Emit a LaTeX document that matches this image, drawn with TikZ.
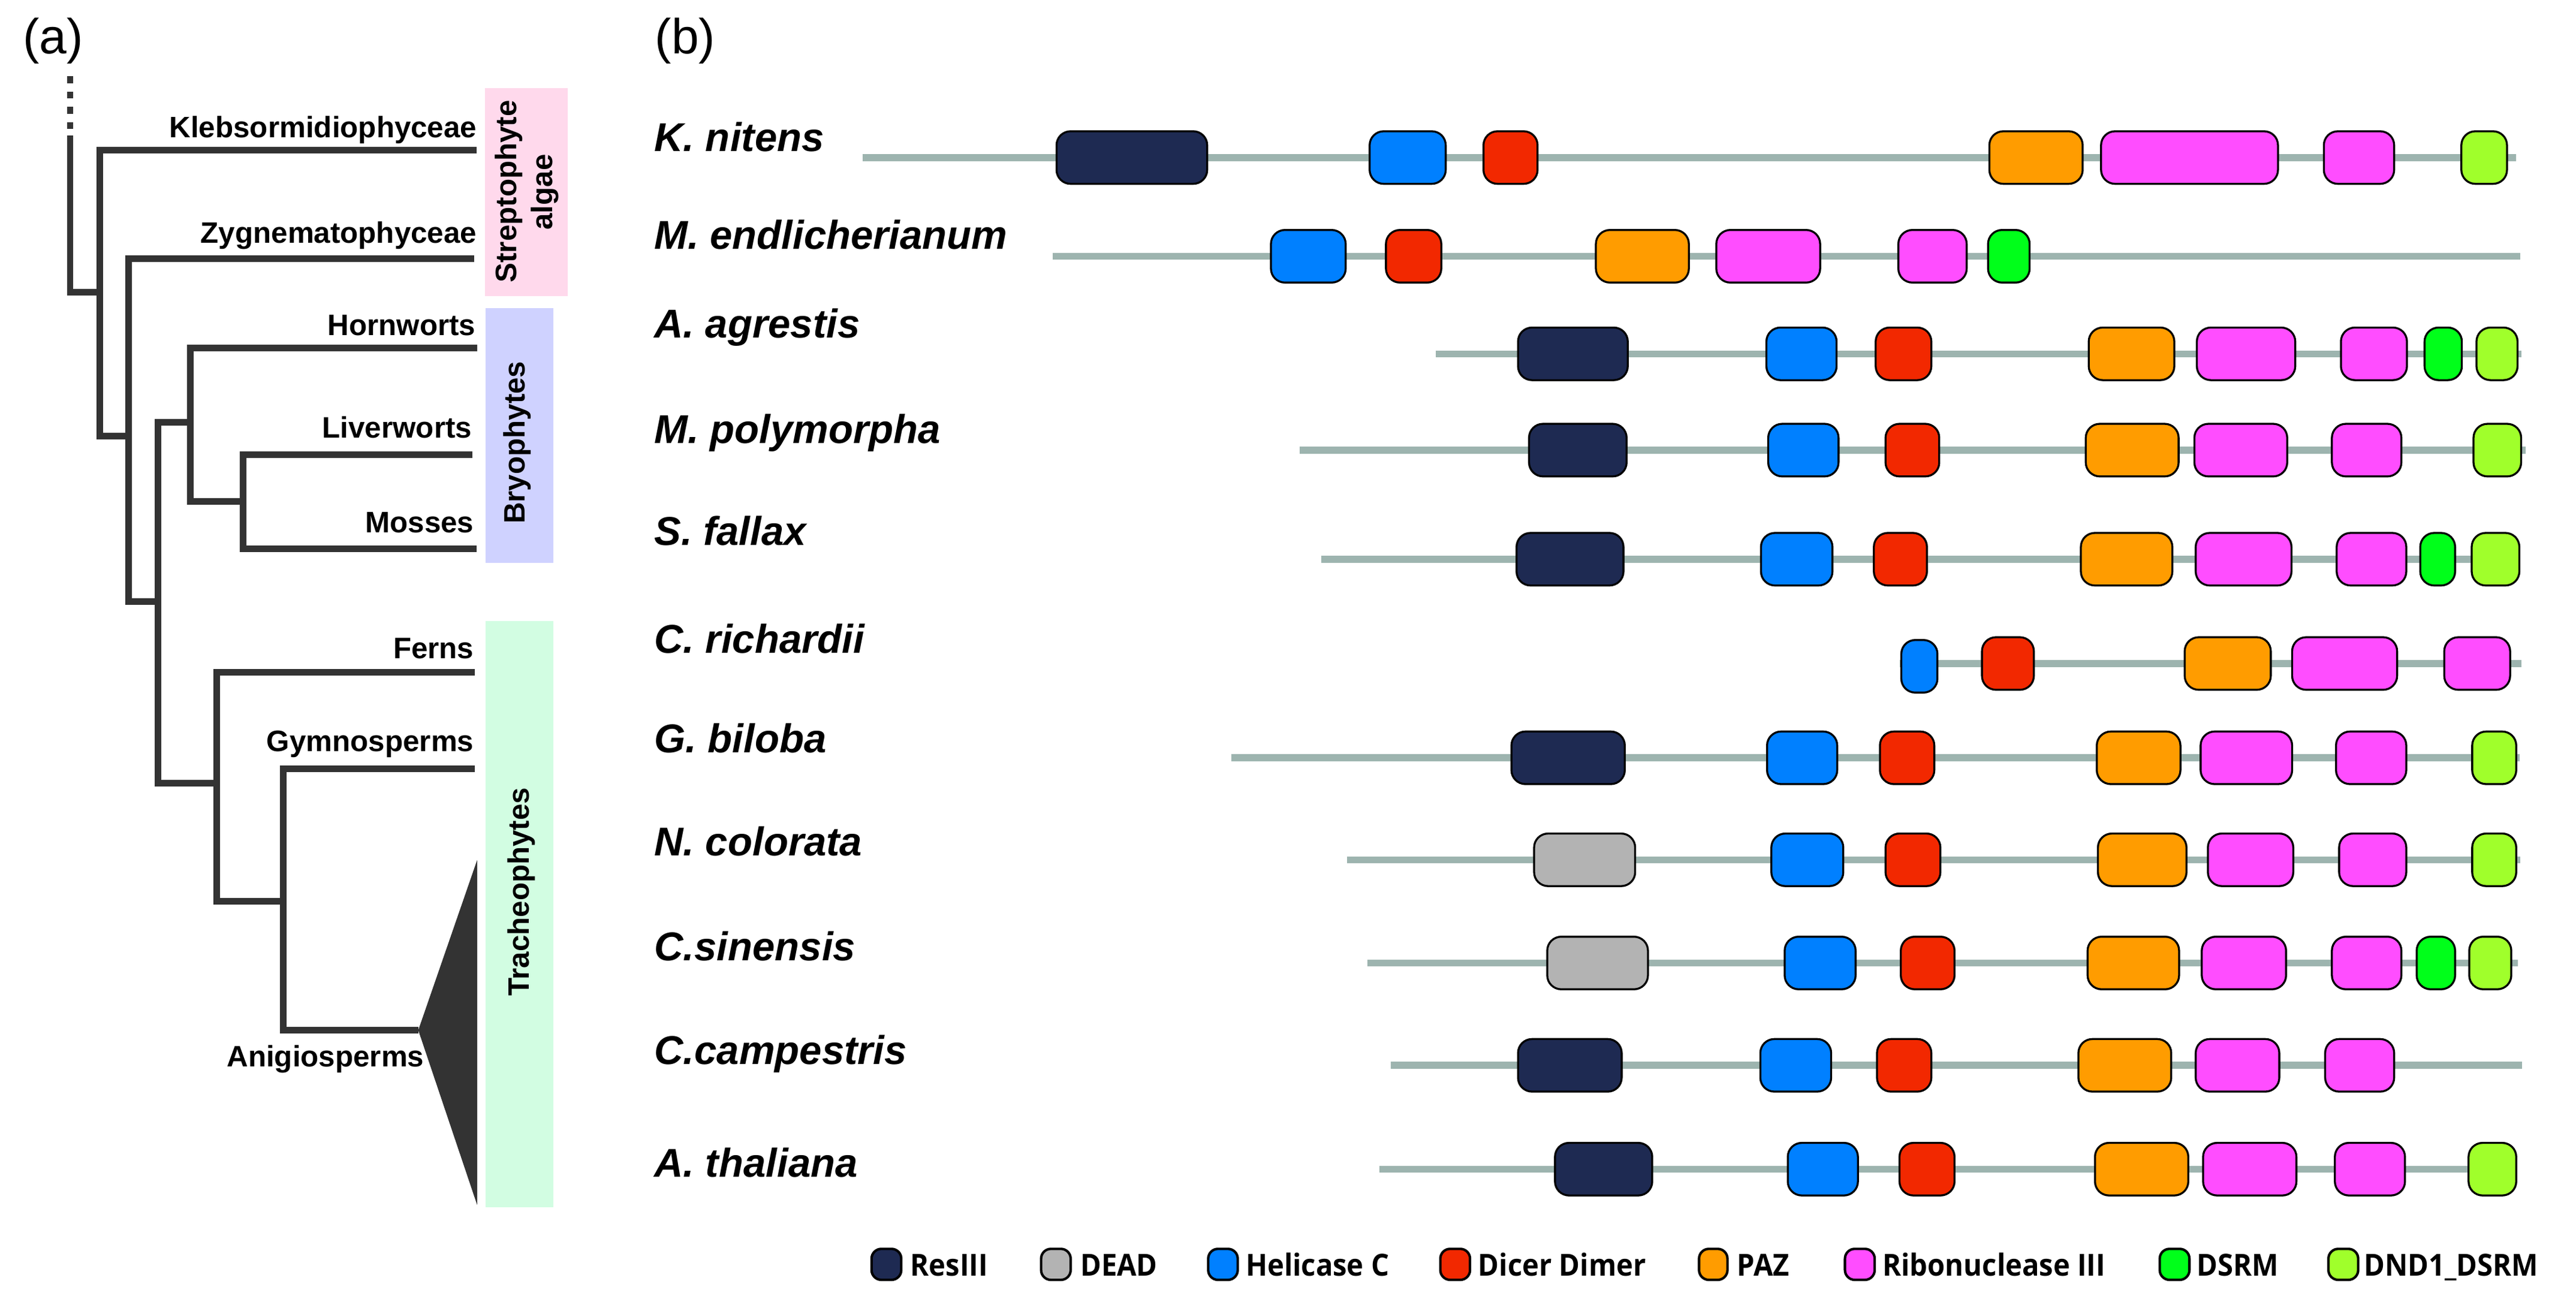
\documentclass[tikz,border=0pt]{standalone}
\usepackage{fontspec}
\setmainfont{Liberation Sans}
\newfontfamily\legfont[FakeStretch=0.93]{Open Sans}
\definecolor{cTree}{HTML}{333333}
\definecolor{cLine}{HTML}{9DB4AF}
\definecolor{cRes}{HTML}{1E2A52}
\definecolor{cDead}{HTML}{B3B3B3}
\definecolor{cHel}{HTML}{0080FF}
\definecolor{cDic}{HTML}{F22800}
\definecolor{cPaz}{HTML}{FF9C00}
\definecolor{cRna}{HTML}{FF4DFF}
\definecolor{cDsrm}{HTML}{00FF1A}
\definecolor{cDnd}{HTML}{A0FF2B}
\definecolor{cPink}{HTML}{FFD9EC}
\definecolor{cLav}{HTML}{CFD2FF}
\definecolor{cMint}{HTML}{D2FDE2}
\newcommand\domainbox[4]{\draw[#1] (#2,#4-16) rectangle (#3,#4+16);}
\newcommand\backboneline[3]{\draw[backbone] (#1,#3) -- (#2,#3);}
\begin{document}
\begin{tikzpicture}[x=1pt,y=-1pt,
  tree/.style={draw=cTree, line width=4pt, line join=miter},
  backbone/.style={draw=cLine, line width=4.2pt},
  dom/.style={draw=black, line width=1.2pt, rounded corners=8.5pt},
  resIII/.style={dom, fill=cRes},
  dead/.style={dom, fill=cDead},
  helic/.style={dom, fill=cHel},
  dicer/.style={dom, fill=cDic},
  paz/.style={dom, fill=cPaz},
  rnase/.style={dom, fill=cRna},
  dsrm/.style={dom, fill=cDsrm},
  dnd/.style={dom, fill=cDnd},
  clade/.style={font=\fontsize{18}{21.6}\selectfont\bfseries, inner sep=0pt, anchor=base east},
  group/.style={font=\fontsize{18}{21.6}\selectfont\bfseries, inner sep=0pt, anchor=base, rotate=90},
  species/.style={font=\fontsize{24.5}{29}\selectfont\bfseries\itshape, inner sep=0pt, anchor=base west},
  legtext/.style={font=\legfont\fontsize{18.5}{22}\selectfont\bfseries, inner sep=0pt, anchor=base west},
  swatch/.style={draw=black, line width=1.5pt, rounded corners=6pt},
  panel/.style={font=\fontsize{30}{36}\selectfont, inner sep=0pt, anchor=base west}]
\useasboundingbox (0,0) rectangle (1568,797.7);
\fill[white] (0,0) rectangle (1568,797.7);

% ---------- panel labels
\node[panel] (pa) at (13.8,32.6) {(a)};
\node[panel] (pb) at (398.5,32.6) {(b)};

% ---------- group boxes
\fill[cPink] (295.1,53.5) rectangle (345.6,180.4);
\fill[cLav] (295.6,187.6) rectangle (336.7,342.6);
\fill[cMint] (295.6,377.9) rectangle (336.7,734.8);
\node[group] (gStrep) at (314.2,116.5) {Streptophyte};
\node[group] (gAlgae) at (336.3,117) {algae};
\node[group] (gBryo) at (319.3,269.4) {Bryophytes};
\node[group] (gTrach) at (321.9,542.9) {Tracheophytes};

% ---------- tree coordinates
\coordinate (rootTop) at (42.7,46.5);
\coordinate (rootSolid) at (42.7,82.6);
\coordinate (a1) at (60.9,178);
\coordinate (a2) at (60.9,265.5);
\coordinate (b1) at (78.1,265.5);
\coordinate (b2) at (78.1,366.3);
\coordinate (c1) at (96.2,366.3);
\coordinate (c2) at (96.2,476.7);
\coordinate (d1) at (116,257.2);
\coordinate (d2) at (116,305.1);
\coordinate (e1) at (148.1,305.1);
\coordinate (e2) at (148.1,334);
\coordinate (f1) at (132,476.7);
\coordinate (f2) at (132,548.5);
\coordinate (g1) at (172.4,548.5);
\coordinate (g2) at (172.4,627.1);
\coordinate (tKleb) at (290.2,91.5);
\coordinate (tZyg) at (288.6,157.6);
\coordinate (tHorn) at (290.4,211.8);
\coordinate (tLiv) at (287.6,276.9);
\coordinate (tMoss) at (290,334);
\coordinate (tFern) at (289,409.1);
\coordinate (tGym) at (289,467.9);
\coordinate (tAng) at (254.6,627.1);
\coordinate (triTop) at (290.4,523.6);
\coordinate (triBot) at (290.4,733.4);

\draw[tree, dash pattern=on 4.2pt off 5.1pt] (rootTop) -- (rootSolid);
\draw[tree] (rootSolid) |- (a1);
\draw[tree] (tKleb) -| (a2) -- (b1);
\draw[tree] (tZyg) -| (b2) -- (c1);
\draw[tree] (d1) -| (c2) -- (f1);
\draw[tree] (tHorn) -| (d2) -- (e1);
\draw[tree] (tLiv) -| (e2) -- (tMoss);
\draw[tree] (tFern) -| (f2) -- (g1);
\draw[tree] (tGym) -| (g2) -- (tAng);
\fill[cTree] (tAng) -- (triTop) -- (triBot) -- cycle;

\node[clade] (lKleb) at (290.4,83.8) {Klebsormidiophyceae};
\node[clade] (lZyg) at (290.4,147.8) {Zygnematophyceae};
\node[clade] (lHorn) at (289.7,204.3) {Hornworts};
\node[clade] (lLiv) at (287.4,266.5) {Liverworts};
\node[clade] (lMoss) at (288.6,324.2) {Mosses};
\node[clade] (lFern) at (288.6,400.8) {Ferns};
\node[clade] (lGym) at (288.6,457.4) {Gymnosperms};
\node[clade] (lAng) at (258.3,649.2) {Anigiosperms};

% ---------- species labels
\node[species] (s1) at (398,92) {K. nitens};
\node[species] (s2) at (398,151.7) {M. endlicherianum};
\node[species] (s3) at (398,205.7) {A. agrestis};
\node[species] (s4) at (398,270) {M. polymorpha};
\node[species] (s5) at (398,331.8) {S. fallax};
\node[species] (s6) at (398,397.5) {C. richardii};
\node[species] (s7) at (398,458) {G. biloba};
\node[species] (s8) at (398,520.8) {N. colorata};
\node[species] (s9) at (398,584.8) {C.sinensis};
\node[species] (s10) at (398,647.7) {C.campestris};
\node[species] (s11) at (398,716.3) {A. thaliana};

% ---------- protein backbones
\backboneline{525.1}{1531.6}{95.9}
\backboneline{640.7}{1534.2}{156}
\backboneline{874.1}{1534.6}{215.4}
\backboneline{791}{1537.2}{274}
\backboneline{804.1}{1533}{340.4}
\backboneline{1156.2}{1534.6}{403.9}
\backboneline{749.4}{1533.5}{461.3}
\backboneline{819.9}{1534.2}{523.4}
\backboneline{832.5}{1532.7}{586.2}
\backboneline{846.4}{1535.3}{648.5}
\backboneline{839.7}{1531}{711.7}

% row 1 K. nitens
\domainbox{resIII}{643.1}{734.8}{95.9}
\domainbox{helic}{833.7}{880}{95.9}
\domainbox{dicer}{903}{935.9}{95.9}
\domainbox{paz}{1210.9}{1267.7}{95.9}
\domainbox{rnase}{1278.9}{1386.6}{95.9}
\domainbox{rnase}{1414.5}{1457.3}{95.9}
\domainbox{dnd}{1498.2}{1526}{95.9}
% row 2 M. endlicherianum
\domainbox{helic}{773.6}{819.1}{156}
\domainbox{dicer}{843.6}{877.3}{156}
\domainbox{paz}{971.4}{1028}{156}
\domainbox{rnase}{1044.7}{1107.9}{156}
\domainbox{rnase}{1155.5}{1197.1}{156}
\domainbox{dsrm}{1210.1}{1235.4}{156}
% row 3 A. agrestis
\domainbox{resIII}{924}{990.8}{215.4}
\domainbox{helic}{1075.2}{1117.9}{215.4}
\domainbox{dicer}{1141.7}{1175.6}{215.4}
\domainbox{paz}{1271.4}{1323.5}{215.4}
\domainbox{rnase}{1337.2}{1397.1}{215.4}
\domainbox{rnase}{1424.9}{1465.1}{215.4}
\domainbox{dsrm}{1475.8}{1498.5}{215.4}
\domainbox{dnd}{1507.4}{1532.4}{215.4}
% row 4 M. polymorpha
\domainbox{resIII}{930.7}{990.1}{274}
\domainbox{helic}{1076.3}{1119.1}{274}
\domainbox{dicer}{1147.7}{1180.4}{274}
\domainbox{paz}{1269.6}{1326.1}{274}
\domainbox{rnase}{1335.7}{1392.2}{274}
\domainbox{rnase}{1419.4}{1461.7}{274}
\domainbox{dnd}{1505.6}{1534.6}{274}
% row 5 S. fallax
\domainbox{resIII}{923.1}{988.2}{340.4}
\domainbox{helic}{1071.9}{1115.4}{340.4}
\domainbox{dicer}{1140.6}{1172.9}{340.4}
\domainbox{paz}{1266.6}{1322.3}{340.4}
\domainbox{rnase}{1336.5}{1394.8}{340.4}
\domainbox{rnase}{1422.3}{1464.7}{340.4}
\domainbox{dsrm}{1473.2}{1494.4}{340.4}
\domainbox{dnd}{1504.5}{1533.5}{340.4}
% row 6 C. richardii
\domainbox{helic}{1157.3}{1179.3}{405.6}
\domainbox{dicer}{1206.4}{1238}{403.9}
\domainbox{paz}{1329.8}{1382.2}{403.9}
\domainbox{rnase}{1395.2}{1459.1}{403.9}
\domainbox{rnase}{1487.8}{1527.9}{403.9}
% row 7 G. biloba
\domainbox{resIII}{920}{989}{461.3}
\domainbox{helic}{1075.6}{1118.3}{461.3}
\domainbox{dicer}{1144.3}{1177.4}{461.3}
\domainbox{paz}{1276.3}{1327.2}{461.3}
\domainbox{rnase}{1339.5}{1395.2}{461.3}
\domainbox{rnase}{1421.9}{1464.7}{461.3}
\domainbox{dnd}{1504.8}{1531.6}{461.3}
% row 8 N. colorata
\domainbox{dead}{933.8}{995.3}{523.4}
\domainbox{helic}{1078.2}{1122}{523.4}
\domainbox{dicer}{1147.7}{1181.1}{523.4}
\domainbox{paz}{1277}{1330.9}{523.4}
\domainbox{rnase}{1343.9}{1395.9}{523.4}
\domainbox{rnase}{1423.8}{1464.7}{523.4}
\domainbox{dnd}{1504.8}{1531.6}{523.4}
% row 9 C. sinensis
\domainbox{dead}{941.8}{1003.1}{586.2}
\domainbox{helic}{1086.3}{1129.5}{586.2}
\domainbox{dicer}{1157}{1189.7}{586.2}
\domainbox{paz}{1270.7}{1326.4}{586.2}
\domainbox{rnase}{1340.2}{1391.5}{586.2}
\domainbox{rnase}{1419.4}{1461.7}{586.2}
\domainbox{dsrm}{1471}{1494.4}{586.2}
\domainbox{dnd}{1503}{1528.6}{586.2}
% row 10 C. campestris
\domainbox{resIII}{924}{987.1}{648.5}
\domainbox{helic}{1071.5}{1114.6}{648.5}
\domainbox{dicer}{1142.5}{1175.6}{648.5}
\domainbox{paz}{1265.1}{1321.6}{648.5}
\domainbox{rnase}{1336.5}{1387.4}{648.5}
\domainbox{rnase}{1415.3}{1457.3}{648.5}
% row 11 A. thaliana
\domainbox{resIII}{946.5}{1005.7}{711.7}
\domainbox{helic}{1088.2}{1130.9}{711.7}
\domainbox{dicer}{1156.2}{1189.7}{711.7}
\domainbox{paz}{1275.2}{1332}{711.7}
\domainbox{rnase}{1341}{1397.8}{711.7}
\domainbox{rnase}{1421.2}{1463.9}{711.7}
\domainbox{dnd}{1502.6}{1531.6}{711.7}

% ---------- legend
\draw[swatch, fill=cRes] (530.5,760.2) rectangle (548.6,779.1);
\draw[swatch, fill=cDead] (633.7,760.2) rectangle (651.7,779.1);
\draw[swatch, fill=cHel] (735.4,760.2) rectangle (753.4,779.1);
\draw[swatch, fill=cDic] (876.7,760.2) rectangle (894.8,779.1);
\draw[swatch, fill=cPaz] (1034.2,760.2) rectangle (1051.5,779.1);
\draw[swatch, fill=cRna] (1123,760.2) rectangle (1141.1,779.1);
\draw[swatch, fill=cDsrm] (1314.6,760.2) rectangle (1332.7,779.1);
\draw[swatch, fill=cDnd] (1417.3,760.2) rectangle (1435.4,779.1);
\node[legtext] (k1) at (554,776.6) {ResIII};
\node[legtext] (k2) at (657.4,776.6) {DEAD};
\node[legtext] (k3) at (758.1,776.6) {Helicase C};
\node[legtext] (k4) at (899.6,776.6) {Dicer Dimer};
\node[legtext] (k5) at (1057.2,776.6) {PAZ};
\node[legtext] (k6) at (1145.7,776.6) {Ribonuclease III};
\node[legtext] (k7) at (1337.1,776.6) {DSRM};
\node[legtext] (k8) at (1438.7,776.6) {DND1\_DSRM};
\end{tikzpicture}
\end{document}
